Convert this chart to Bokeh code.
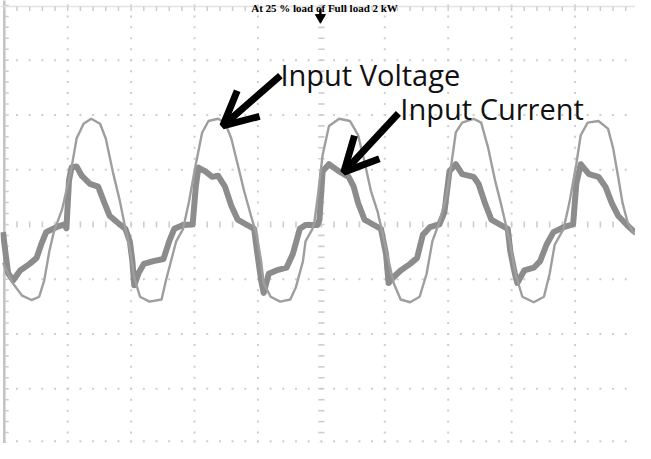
import numpy as np
from bokeh.plotting import figure
from bokeh.models import Range1d, Arrow, OpenHead
from bokeh.core.properties import value
from bokeh.embed import file_html
from bokeh.resources import INLINE

# ---- data (time and amplitude in screen divisions) ----
title_text = "At 25 % load of Full load 2 kW"
label_voltage = "Input Voltage"
label_current = "Input Current"

v_t = [-5.02, -4.88, -4.72, -4.57, -4.45, -4.37, -4.29, -4.22, -4.09, -3.95, -3.86, -3.75, -3.63,
       -3.49, -3.40, -3.29, -3.18, -3.09, -3.02, -2.95, -2.86, -2.71, -2.52, -2.45, -2.29, -2.18,
       -2.09, -1.98, -1.88, -1.78, -1.63, -1.52, -1.42, -1.32, -1.22, -1.11, -1.02, -0.95, -0.91,
       -0.80, -0.65, -0.49, -0.40, -0.29, -0.25, -0.14, -0.11, -0.05, 0.02, 0.12, 0.28, 0.45, 0.58,
       0.68, 0.78, 0.89, 0.97, 1.05, 1.14, 1.25, 1.40, 1.55, 1.66, 1.75, 1.86, 1.97, 2.05, 2.12,
       2.22, 2.40, 2.52, 2.63, 2.74, 2.83, 2.91, 2.98, 3.06, 3.17, 3.35, 3.51, 3.60, 3.68, 3.82,
       3.91, 4.02, 4.09, 4.20, 4.37, 4.52, 4.60, 4.68, 4.75, 4.83, 4.94]
v_val = [-0.70, -1.05, -1.30, -1.38, -1.32, -1.02, -0.49, -0.14, 0.27, 0.97, 1.57, 1.84, 1.93,
         1.84, 1.57, 0.97, 0.44, -0.08, -0.44, -0.97, -1.32, -1.41, -1.37, -1.02, -0.31, -0.08,
         0.40, 1.10, 1.68, 1.89, 1.93, 1.86, 1.57, 1.10, 0.62, 0.16, -0.19, -0.67, -1.07,
         -1.32, -1.41, -1.37, -1.14, -0.67, -0.31, -0.08, 0.04, 0.57, 1.27, 1.80, 1.93, 1.89, 1.63,
         1.15, 0.62, 0.22, -0.19, -0.61, -1.07, -1.37, -1.42, -1.32, -0.90, -0.31, 0.04, 0.51, 1.10, 1.68,
         1.86, 1.93, 1.86, 1.40, 0.80, 0.39, -0.01, -0.37, -0.90, -1.32, -1.42, -1.32, -0.90, -0.37, -0.08,
         0.39, 1.10, 1.63, 1.86, 1.89, 1.75, 1.40, 0.87, 0.39, 0.04, -0.19]

i_t = [-5.02, -4.98, -4.94, -4.86, -4.75, -4.60, -4.49, -4.42, -4.34, -4.18, -4.05, -4.02, -3.98,
       -3.94, -3.86, -3.78, -3.65, -3.52, -3.42, -3.34, -3.22, -3.09, -3.02, -2.98, -2.95, -2.88,
       -2.80, -2.65, -2.49, -2.40, -2.32, -2.18, -2.03, -1.98, -1.94, -1.83, -1.72, -1.63, -1.52,
       -1.42, -1.32, -1.17, -1.06, -1.02, -0.95, -0.91, -0.83, -0.71, -0.55, -0.45, -0.34, -0.25,
       -0.06, -0.03, 0.02, 0.12, 0.28, 0.43, 0.51, 0.58, 0.68, 0.83, 0.94, 1.02, 1.06, 1.14, 1.25,
       1.40, 1.51, 1.60, 1.71, 1.86, 1.94, 2.02, 2.12, 2.22, 2.40, 2.48, 2.58, 2.68, 2.83, 2.94,
       2.98, 3.05, 3.09, 3.20, 3.35, 3.45, 3.55, 3.66, 3.82, 3.97, 4.02, 4.09, 4.22, 4.37, 4.48,
       4.58, 4.68, 4.82, 4.94]
i_val = [-0.14, -0.53, -0.89, -1.02, -0.84, -0.72, -0.61, -0.37, -0.14, -0.05, 0.00, -0.07, 0.80,
         1.04, 1.06, 0.89, 0.74, 0.69, 0.39, 0.16, 0.04, -0.08, -0.31, -0.67, -1.11, -0.88,
         -0.72, -0.67, -0.63, -0.31, -0.08, -0.01, 0.00, 0.69, 1.04, 0.97, 0.87, 0.89, 0.69,
         0.34, 0.09, -0.01, -0.08, -0.44, -1.02, -1.25, -0.90, -0.84, -0.79, -0.54, -0.08, -0.01,
         -0.01, 0.09, 0.97, 1.10, 0.97, 0.87, 0.69, 0.39, 0.09, -0.01, -0.08, -0.54, -1.07, -0.96, -0.84,
         -0.72, -0.61, -0.19, -0.05, 0.00, 0.22, 0.97, 1.10, 0.92, 0.87, 0.74, 0.39, 0.09, -0.01, -0.08,
         -0.49, -0.89, -1.07, -0.84, -0.79, -0.67, -0.37, -0.14, -0.05, 0.00, 0.74, 1.10, 0.92, 0.87, 0.69,
         0.39, 0.16, -0.01, -0.14]

# ---- figure ----
p = figure(width=635, height=443, x_range=Range1d(-5.06, 4.954), y_range=Range1d(-4.0, 4.09),
           toolbar_location=None, output_backend="svg", min_border=0,
           x_axis_location=None, y_axis_location=None)
p.grid.visible = False
p.outline_line_color = None
p.background_fill_color = "white"
p.border_fill_color = "white"

grid_col = "#cdcdcd"
minor_x = np.round(np.arange(-5.0, 5.01, 0.2), 2)
minor_y = np.round(np.arange(-4.0, 4.01, 0.2), 2)

# dotted graticule
dx, dy = [], []
for gx in range(-4, 5):
    if gx == 0:
        continue
    for yy in minor_y:
        dx.append(gx); dy.append(yy)
for gy in range(-3, 4):
    if gy == 0:
        continue
    for xx in minor_x:
        dx.append(xx); dy.append(gy)
for xx in minor_x:
    dx.append(xx); dy.append(-3.96)
p.scatter(dx, dy, marker="square", size=2.0, color=grid_col, line_color=None)

# centre axes with tick dashes
p.segment(x0=[-0.05] * len(minor_y), y0=list(minor_y), x1=[0.05] * len(minor_y), y1=list(minor_y),
          line_color=grid_col, line_width=1.6)
p.segment(x0=list(minor_x), y0=[-0.055] * len(minor_x), x1=list(minor_x), y1=[0.055] * len(minor_x),
          line_color=grid_col, line_width=1.6)

# border lines with ticks (left and top)
p.line([-5.0, -5.0], [-4.2, 4.2], line_color="#c2c2c2", line_width=2.5)
p.segment(x0=[-5.0] * len(minor_y), y0=list(minor_y), x1=[-4.93] * len(minor_y), y1=list(minor_y),
          line_color=grid_col, line_width=1.5)
p.line([-5.2, 5.2], [3.98, 3.98], line_color="#e2e2e2", line_width=1.5)
p.segment(x0=list(minor_x), y0=[3.98] * len(minor_x), x1=list(minor_x), y1=[3.90] * len(minor_x),
          line_color=grid_col, line_width=1.5)

# waveforms
p.line(i_t, i_val, line_color="#8c8c8c", line_width=6, line_join="round")
p.line(v_t, v_val, line_color="#9e9e9e", line_width=2.4, line_join="round")

# trigger marker
p.segment(x0=[-0.015], y0=[3.93], x1=[-0.015], y1=[3.83], line_color="black", line_width=2.5)
p.scatter([-0.015], [3.78], marker="inverted_triangle", size=10, color="black")

# title at the very top
p.text([0.05], [3.945], text=[title_text], text_font=value("Liberation Serif"),
       text_font_style="bold", text_font_size="11px", text_align="center",
       text_baseline="alphabetic", text_color="black")

# annotations
p.text([-0.646], [2.735], text=[label_voltage], text_font=value("Open Sans"),
       text_font_size="29px", text_color="#111111", text_baseline="alphabetic")
p.text([1.246], [2.12], text=[label_current], text_font=value("Open Sans"),
       text_font_size="29px", text_color="#111111", text_baseline="alphabetic")

p.add_layout(Arrow(end=OpenHead(size=34, line_width=7, line_color="black"),
                   x_start=-0.646, y_start=2.72, x_end=-1.554, y_end=1.80,
                   line_width=7, line_color="black"))
p.add_layout(Arrow(end=OpenHead(size=34, line_width=7, line_color="black"),
                   x_start=1.215, y_start=2.03, x_end=0.354, y_end=0.956,
                   line_width=7, line_color="black"))

open("out.html", "w").write(file_html(p, INLINE))
